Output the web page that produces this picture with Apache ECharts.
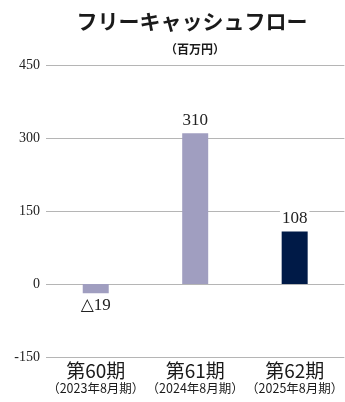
<!DOCTYPE html>
<html><head><meta charset="utf-8">
<script src="https://cdn.jsdelivr.net/npm/echarts@6/dist/echarts.min.js"></script>
<style>html,body{margin:0;padding:0;background:#fff}#c{width:345px;height:402px}</style>
</head><body><div id="c"></div>
<script>
const periods = ['第60期','第61期','第62期'];
const periodSubs = ['（2023年8月期）','（2024年8月期）','（2025年8月期）'];
const values = [-19, 310, 108];
const yTicks = [-150, 0, 150, 300, 450];
const barColors = ['#a09ec0','#a09ec0','#001a47'];

const chart = echarts.init(document.getElementById('c'));
const serif = '"Liberation Serif","DejaVu Serif",serif';
const jp = '"Noto Sans CJK JP",sans-serif';
chart.setOption({
  animation: false,
  title: [
    {text: 'フリーキャッシュフロー', left: 187, top: 6, textAlign: 'center',
     textStyle: {fontFamily: jp, fontSize: 21, fontWeight: 'bold', color: '#1a1a1a'}},
    {text: '（百万円）', left: 190, top: 38, textAlign: 'center',
     textStyle: {fontFamily: jp, fontSize: 12, fontWeight: 'bold', color: '#1a1a1a'}}
  ],
  grid: {left: 46, top: 65, width: 306, height: 292, containLabel: false},
  xAxis: {
    type: 'category', data: periods,
    axisLine: {show: false}, axisTick: {show: false},
    axisLabel: {
      interval: 0, margin: 3,
      formatter: (v, i) => '{a|' + v + '}\n{b|' + periodSubs[i] + '}',
      rich: {
        a: {fontFamily: jp, fontSize: 19, color: '#1a1a1a', lineHeight: 21, fontWeight: 'normal'},
        b: {fontFamily: jp, fontSize: 12.5, color: '#1a1a1a', lineHeight: 15}
      }
    }
  },
  yAxis: {
    type: 'value', min: yTicks[0], max: yTicks[yTicks.length-1], interval: 150,
    axisLine: {show: false}, axisTick: {show: false},
    axisLabel: {fontFamily: serif, fontSize: 14, color: '#222', margin: 6},
    splitLine: {lineStyle: {color: '#b5b5b5', width: 1}}
  },
  series: [{
    type: 'bar', barWidth: 26,
    data: values.map((v, i) => ({
      value: v,
      itemStyle: {color: barColors[i]},
      label: {position: v < 0 ? 'bottom' : 'top'}
    })),
    label: {
      show: true, distance: 4,
      fontFamily: serif, fontSize: 17, color: '#222',
      backgroundColor: '#fff', padding: [0, 2],
      formatter: p => p.value < 0 ? '△' + Math.abs(p.value) : String(p.value)
    }
  }]
});
</script></body></html>
